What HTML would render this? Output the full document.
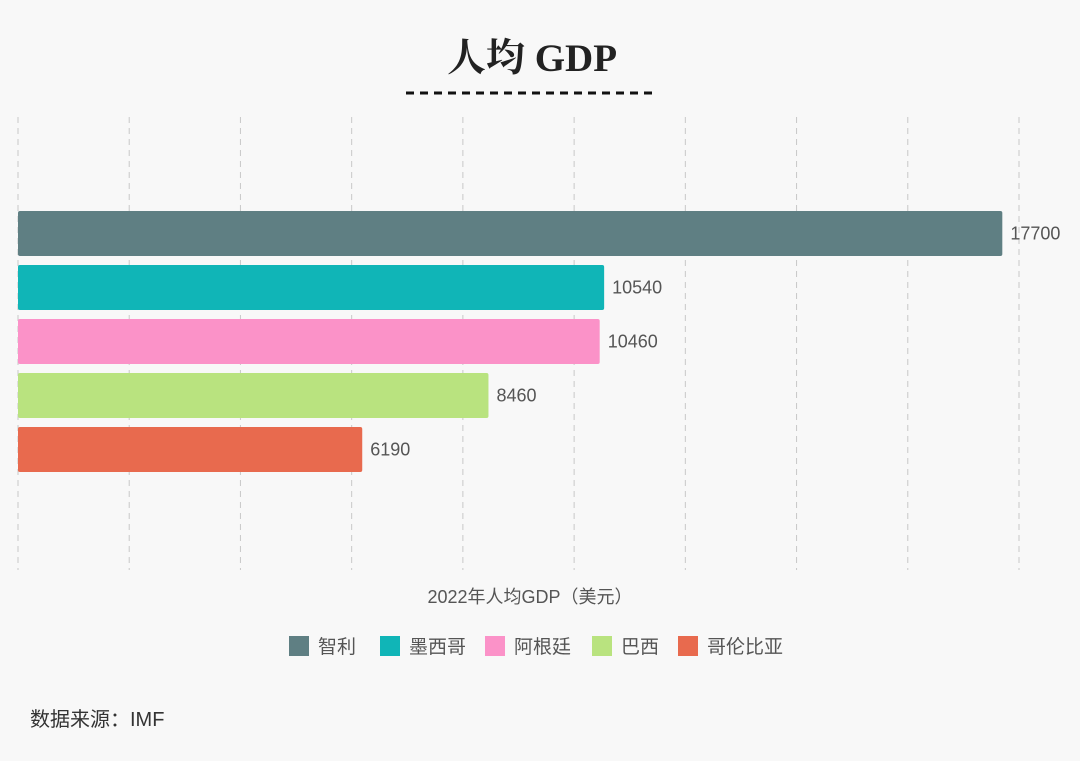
<!DOCTYPE html>
<html><head><meta charset="utf-8">
<style>
html,body{margin:0;padding:0;background:#f8f8f8;}
svg{display:block;font-family:"Liberation Sans","Noto Sans CJK SC",sans-serif;}
</style></head>
<body>
<svg id="chart" width="1080" height="761" viewBox="0 0 1080 761">
<rect width="1080" height="761" fill="#f8f8f8"/>
<text x="532" y="71" text-anchor="middle" font-family="'Liberation Serif','Noto Serif CJK SC',serif" font-weight="bold" font-size="39" fill="#222">人均 GDP</text>
<line x1="406" y1="93" x2="656" y2="93" stroke="#111" stroke-width="3" stroke-dasharray="8,6"/>
<g id="grid"></g>
<g id="bars"></g>
<text x="530" y="603" text-anchor="middle" font-size="18" fill="#555">2022年人均GDP（美元）</text>
<g id="legend"></g>
<text x="30" y="726" font-size="20" fill="#333">数据来源：IMF</text>
</svg>
<script>
const categories = ["智利","墨西哥","阿根廷","巴西","哥伦比亚"];
const values = [17700,10540,10460,8460,6190];
const colors = ["#5f7f83","#10b5b7","#fb92c8","#b9e37f","#e86a4e"];
const ticks = [0,2000,4000,6000,8000,10000,12000,14000,16000,18000];

const NS = "http://www.w3.org/2000/svg";
const x0 = 18, x1 = 1019, maxV = 18000;
const xs = v => x0 + (x1 - x0) * v / maxV;
const yTop = 211, step = 54, bh = 45;
function mk(tag, attrs, parent){const e=document.createElementNS(NS,tag);for(const k in attrs)e.setAttribute(k,attrs[k]);parent.appendChild(e);return e;}

const grid = document.getElementById('grid');
ticks.forEach(t=>{
  const l = mk('line',{x1:xs(t),x2:xs(t),y1:117,y2:570,stroke:'#c8c8c8','stroke-width':1,'stroke-dasharray':'6,5'},grid);
  
  
});

const bars = document.getElementById('bars');
values.forEach((v,i)=>{
  const y = yTop + i*step;
  const r = mk('rect',{x:x0,y:y,width:xs(v)-x0,height:bh,fill:colors[i],rx:2},bars);
  
  
  const t = mk('text',{x:xs(v)+8,y:y+bh/2+6,'font-size':18,fill:'#555'},bars);
  t.textContent = v;
  
  
});

const legend = document.getElementById('legend');
const lx = [289,380,485,592,678];
categories.forEach((c,i)=>{
  const g = mk('g',{},legend);
  
  
  mk('rect',{x:lx[i],y:636,width:20,height:20,fill:colors[i]},g);
  const t = mk('text',{x:lx[i]+29,y:653,'font-size':19,fill:'#555'},g);
  t.textContent = c;
});
</script>
</body></html>
